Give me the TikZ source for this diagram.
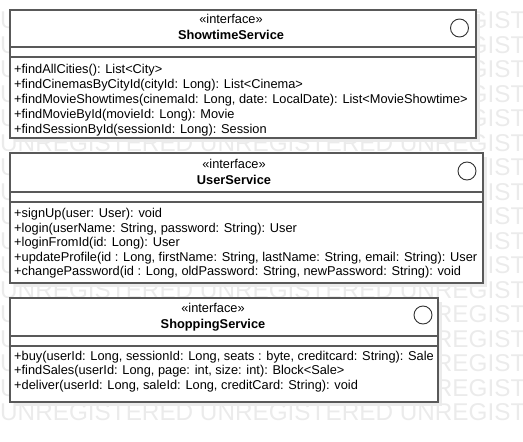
\documentclass[tikz,border=0pt]{standalone}
\usepackage{fontspec}
\setmainfont{Liberation Sans}

\begin{document}
\begin{tikzpicture}[x=1pt, y=-1pt,
    box/.style={draw=black!65, line width=1.2pt, fill=white},
    boxshadow/.style={fill=black!8},
    sep/.style={draw=black!65, line width=1.2pt},
    icon/.style={draw=black!80, line width=0.9pt, fill=white},
    stereo/.style={font=\fontsize{12.8}{15}\selectfont, inner sep=0pt, anchor=base},
    title/.style={font=\fontsize{12.8}{15}\selectfont\bfseries, inner sep=0pt, anchor=base},
    op/.style={font=\fontsize{12.8}{15}\selectfont, inner sep=0pt, anchor=base west},
    watermark/.style={font=\fontsize{24.3}{27}\selectfont, text=black!8, inner sep=0pt, anchor=base west}]
\useasboundingbox (0,0) rectangle (523,442);

% watermark rows
\begin{scope}
\clip (0,0) rectangle (523,442);
\foreach \k in {0,...,16}
    \node[watermark] (wm\k) at (0, 28.8+24.5*\k) {UNREGISTERED UNREGISTERED UNREGISTERED};
\end{scope}

% ShowtimeService
\fill[boxshadow] (14,14) rectangle (480,142);
\draw[box] (10,10) rectangle (476,138);
\draw[sep] (10,47) -- (476,47);
\draw[sep] (10,57) -- (476,57);
\draw[icon] (459.5,28) circle (9);
\node[stereo] (showtimestereo) at (231,23.5) {«interface»};
\node[title] (showtime) at (231,39.5) {ShowtimeService};
\node[op] (showtime1) at (14,73.5) {+findAllCities(): List<City>};
\node[op] (showtime2) at (14,88.5) {+findCinemasByCityId(cityId: Long): List<Cinema>};
\node[op] (showtime3) at (14,103.5) {+findMovieShowtimes(cinemaId: Long, date: LocalDate): List<MovieShowtime>};
\node[op] (showtime4) at (14,118.5) {+findMovieById(movieId: Long): Movie};
\node[op] (showtime5) at (14,133.5) {+findSessionById(sessionId: Long): Session};

% UserService
\fill[boxshadow] (14,157) rectangle (487,287);
\draw[box] (10,153) rectangle (483,283);
\draw[sep] (10,192) -- (483,192);
\draw[sep] (10,202) -- (483,202);
\draw[icon] (467,171) circle (9);
\node[stereo] (userstereo) at (234,168.5) {«interface»};
\node[title] (user) at (234,184.5) {UserService};
\node[op] (user1) at (14,217.5) {+signUp(user: User): void};
\node[op] (user2) at (14,232) {+login(userName: String, password: String): User};
\node[op] (user3) at (14,246.5) {+loginFromId(id: Long): User};
\node[op] (user4) at (14,261) {+updateProfile(id : Long, firstName: String, lastName: String, email: String): User};
\node[op] (user5) at (14,275.5) {+changePassword(id : Long, oldPassword: String, newPassword: String): void};

% ShoppingService
\fill[boxshadow] (14,302) rectangle (442,406);
\draw[box] (10,298) rectangle (438,402);
\draw[sep] (10,336) -- (438,336);
\draw[sep] (10,346) -- (438,346);
\draw[icon] (423,315) circle (9);
\node[stereo] (shopstereo) at (213,312.5) {«interface»};
\node[title] (shop) at (213,328.5) {ShoppingService};
\node[op] (shop1) at (14,360.5) {+buy(userId: Long, sessionId: Long, seats : byte, creditcard: String): Sale};
\node[op] (shop2) at (14,374.5) {+findSales(userId: Long, page: int, size: int): Block<Sale>};
\node[op] (shop3) at (14,389.5) {+deliver(userId: Long, saleId: Long, creditCard: String): void};
\end{tikzpicture}
\end{document}
